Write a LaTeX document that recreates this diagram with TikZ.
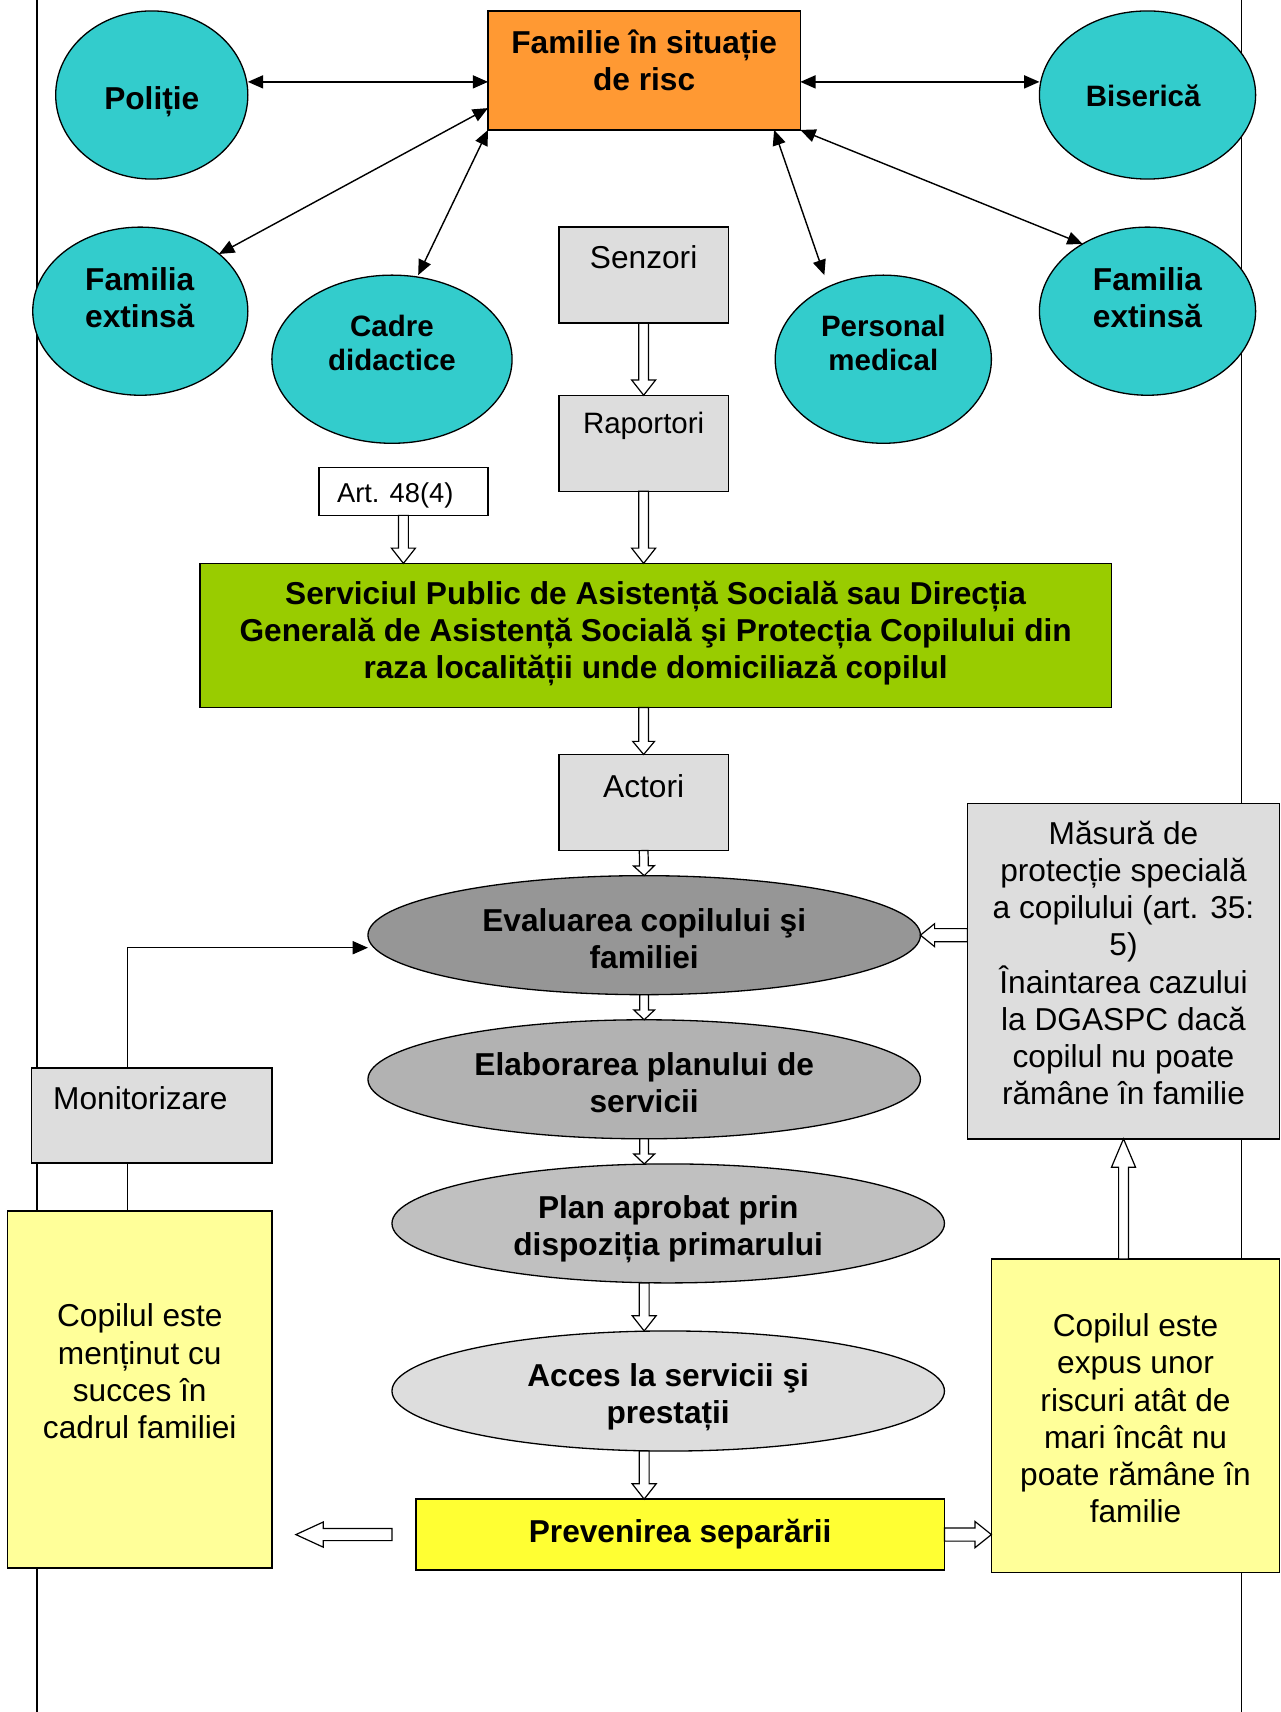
\documentclass[tikz,border=0pt]{standalone}
\usepackage{fontspec}
\setmainfont{Liberation Sans}
\usetikzlibrary{shapes.geometric,arrows.meta,calc}

\definecolor{tealfill}{HTML}{33CCCC}
\definecolor{orangefill}{HTML}{FF9933}
\definecolor{greenfill}{HTML}{99CC00}
\definecolor{lightgray}{HTML}{DDDDDD}
\definecolor{darkoval}{HTML}{969696}
\definecolor{midoval}{HTML}{B2B2B2}
\definecolor{paleoval}{HTML}{C0C0C0}
\definecolor{brightyellow}{HTML}{FFFF33}
\definecolor{paleyellow}{HTML}{FFFF99}

\begin{document}
\begin{tikzpicture}[x=1pt,y=-1pt,
  every node/.style={inner sep=0pt, outer sep=0pt},
  oval/.style={ellipse, draw, line width=1.2pt},
  box/.style={rectangle, draw, line width=1.3pt},
  txt/.style={align=center, font=\fontsize{29}{34}\selectfont},
  btxt/.style={align=center, font=\fontsize{29}{34}\selectfont\bfseries},
  sbtxt/.style={align=center, font=\fontsize{27}{31}\selectfont\bfseries},
  link/.style={draw, line width=1.3pt,
    arrows={Triangle[length=14pt,width=12pt]-Triangle[length=14pt,width=12pt]}},
  harrow/.style n args={3}{draw, line width=1.1pt, fill=white,
    to path={let \p1=(\tikztostart), \p2=(\tikztotarget),
      \n1={atan2(\y2-\y1,\x2-\x1)} in
      ($(\p1)+(\n1+90:#1)$) -- ($(\p2)+(\n1+180:#3)+(\n1+90:#1)$)
      -- ($(\p2)+(\n1+180:#3)+(\n1+90:#2)$) -- (\p2)
      -- ($(\p2)+(\n1+180:#3)+(\n1-90:#2)$)
      -- ($(\p2)+(\n1+180:#3)+(\n1-90:#1)$)
      -- ($(\p1)+(\n1-90:#1)$) -- cycle}}
]
\useasboundingbox (0,0) rectangle (1173,1568);

% page margin rules
\draw[line width=1.5pt] (34,0) -- (34,1568);
\draw[line width=1.5pt] (1137,0) -- (1137,1568);

% top cluster
\node[box, fill=orangefill, minimum width=286, minimum height=109] (fam) at (590,64.5) {};
\node[btxt] (famt) at (590,55) {Familie în situație\\de risc};

\node[oval, fill=tealfill, minimum width=176, minimum height=154] (pol) at (139,87) {};
\node[btxt] (polt) at (139,93) {Poliție};
\node[oval, fill=tealfill, minimum width=198, minimum height=154] (bis) at (1051,87) {};
\node[sbtxt] (bist) at (1047,88) {Biserică};
\node[oval, fill=tealfill, minimum width=197, minimum height=154] (famL) at (128.5,285) {};
\node[btxt] (famLt) at (128,273) {Familia\\extinsă};
\node[oval, fill=tealfill, minimum width=220, minimum height=154] (cad) at (359,329) {};
\node[sbtxt] (cadt) at (359,314) {Cadre\\didactice};
\node[oval, fill=tealfill, minimum width=198, minimum height=154] (pm) at (809,329) {};
\node[sbtxt] (pmt) at (809,314) {Personal\\medical};
\node[oval, fill=tealfill, minimum width=198, minimum height=154] (famR) at (1051,285) {};
\node[btxt] (famRt) at (1051,273) {Familia\\extinsă};

% reporting chain
\node[box, fill=lightgray, minimum width=155, minimum height=88] (sen) at (589.5,252) {};
\node[txt] (sent) at (589.5,236) {Senzori};
\node[box, fill=lightgray, minimum width=155, minimum height=88] (rap) at (589.5,406) {};
\node[txt, font=\fontsize{27}{31}\selectfont] (rapt) at (589.5,390) {Raportori};
\node[box, fill=white, minimum width=155, minimum height=44] (art) at (369.5,450) {};
\node[txt, font=\fontsize{25}{29}\selectfont] (artt) at (362,454) {Art. 48(4)};

\node[box, fill=greenfill, minimum width=835, minimum height=132] (grn) at (600.5,582) {};
\node[btxt] (grnt) at (600.5,580.5) {Serviciul Public de Asistență Socială sau Direcția\\Generală de Asistență Socială şi Protecția Copilului din\\raza localității unde domiciliază copilul};

\node[box, fill=lightgray, minimum width=155, minimum height=88] (act) at (589.5,735) {};
\node[txt] (actt) at (589.5,720) {Actori};

% process ovals
\node[oval, fill=darkoval, minimum width=506, minimum height=109] (eva) at (590,856.5) {};
\node[btxt] (evat) at (590,860) {Evaluarea copilului şi\\familiei};
\node[oval, fill=midoval, minimum width=506, minimum height=109] (ela) at (590,988.5) {};
\node[btxt] (elat) at (590,992) {Elaborarea planului de\\servicii};
\node[oval, fill=paleoval, minimum width=506, minimum height=109] (pla) at (612,1120.5) {};
\node[btxt] (plat) at (612,1126) {Plan aprobat prin\\dispoziția primarului};
\node[oval, fill=lightgray, minimum width=506, minimum height=110] (acc) at (612,1274) {};
\node[btxt] (acct) at (612,1280) {Acces la servicii şi\\prestații};

\node[box, fill=brightyellow, minimum width=484, minimum height=65] (prev) at (623,1405.5) {};
\node[btxt] (prevt) at (623,1405) {Prevenirea separării};

% side boxes
\node[box, fill=lightgray, minimum width=286, minimum height=307] (mas) at (1029,889.5) {};
\node[txt] (mast) at (1029,882) {Măsură de\\protecție specială\\a copilului (art. 35:\\5)\\Înaintarea cazului\\la DGASPC dacă\\copilul nu poate\\rămâne în familie};

\node[box, fill=lightgray, minimum width=220, minimum height=87] (mon) at (139,1021.5) {};
\node[txt] (mont) at (128.5,1006) {Monitorizare};

\node[box, fill=paleyellow, minimum width=242, minimum height=327] (lyel) at (128,1272.5) {};
\node[txt] (lyelt) at (128,1256) {Copilul este\\menținut cu\\succes în\\cadrul familiei};

\node[box, fill=paleyellow, minimum width=264, minimum height=287] (ryel) at (1040,1296.5) {};
\node[txt] (ryelt) at (1040,1299) {Copilul este\\expus unor\\riscuri atât de\\mari încât nu\\poate rămâne în\\familie};

% two-way links around the family at risk
\draw[link] ([yshift=-10.5pt]fam.west) -- ([yshift=-10.5pt]fam.west -| pol.east);
\draw[link] ([yshift=-10.5pt]fam.east) -- ([yshift=-10.5pt]fam.east -| bis.west);
\draw[link] ([yshift=-34.5pt]fam.west) -- (famL.36);
\draw[link] (fam.south west) -- ([xshift=24pt]cad.north);
\draw[link] ([xshift=-24pt]fam.south east) -- ([xshift=-54pt]pm.north);
\draw[link] (fam.south east) -- (famR.134);

% hollow flow arrows
\draw[harrow={4.5pt}{11pt}{14pt}] (sen.south) to (rap.north);
\draw[harrow={4.5pt}{11pt}{14pt}] (rap.south) to (rap.south |- grn.north);
\draw[harrow={4.5pt}{11pt}{14pt}] (art.south) to (art.south |- grn.north);
\draw[harrow={4.5pt}{10pt}{12pt}] (act.north |- grn.south) to (act.north);
\draw[harrow={4pt}{9.5pt}{9pt}] (act.south) to (eva.north);
\draw[harrow={4pt}{9.5pt}{9pt}] (eva.south) to (ela.north);
\draw[harrow={4pt}{9.5pt}{9pt}] (ela.south) to (ela.south |- pla.north);
\draw[harrow={4.5pt}{11pt}{14pt}] ([xshift=-22pt]pla.south) to ([xshift=-22pt]acc.north);
\draw[harrow={4.5pt}{11pt}{14pt}] ([xshift=-22pt]acc.south) to ([xshift=-22pt]acc.south |- prev.north);
\draw[harrow={6pt}{10.5pt}{13pt}] (mas.west |- eva.east) to (eva.east);
\draw[harrow={5.5pt}{11.5pt}{25pt}] ([xshift=-22pt]prev.west) to ([xshift=22pt]lyel.east |- prev.west);
\draw[harrow={6pt}{12pt}{15pt}] (prev.east) to (prev.east -| ryel.west);
\draw[harrow={4.5pt}{11pt}{26pt}] (mas.south |- ryel.north) to (mas.south);

% monitoring loop
\draw[line width=1.3pt, arrows={-Triangle[length=14pt,width=12pt]}]
  ([xshift=-22pt]mon.north) |- ([yshift=-11.5pt]eva.west);
\draw[line width=1.3pt] ([xshift=-22pt]mon.south) -- ([xshift=-22pt]mon.south |- lyel.north);
\end{tikzpicture}
\end{document}
